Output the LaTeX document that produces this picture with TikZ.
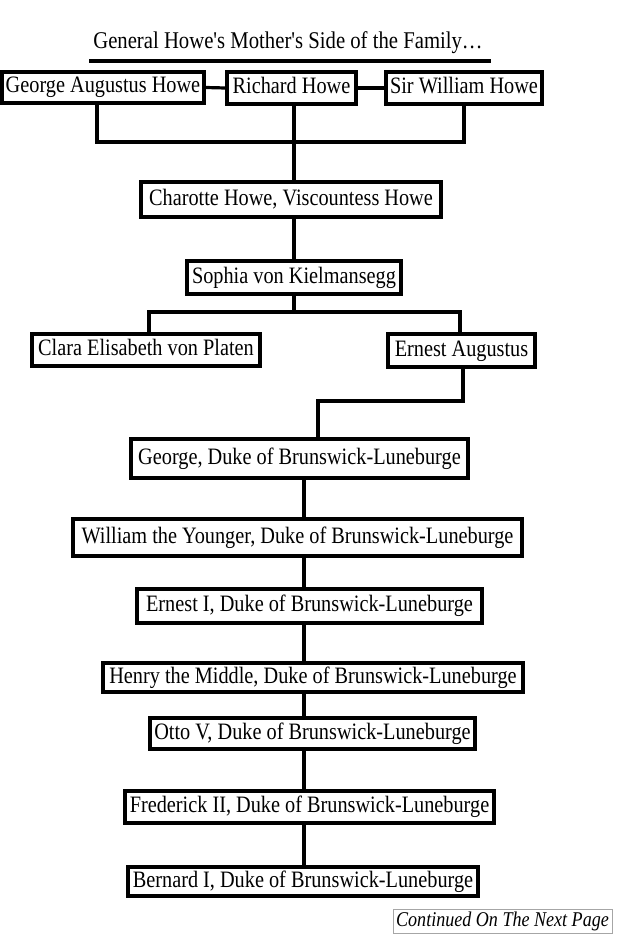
\documentclass[tikz,border=0pt]{standalone}
\usepackage{fontspec}
\newfontfamily\boxfont[FakeStretch=0.863]{Liberation Serif}
\newfontfamily\notefont[FakeStretch=0.86]{Liberation Serif}
\begin{document}
\begin{tikzpicture}[x=1pt,y=-1pt,
  person/.style={draw, line width=3.2pt, inner sep=0pt, fill=white,
    text height=19pt, text depth=8pt,
    font=\boxfont\fontsize{23.5}{28}\selectfont},
  link/.style={line width=3.2pt},
  note/.style={draw=gray!70, line width=0.9pt, inner sep=0pt,
    text height=16pt, text depth=7pt,
    font=\notefont\itshape\fontsize{21}{25}\selectfont}]
\useasboundingbox[fill=white] (0,0) rectangle (617,936);
% title
\node[font=\boxfont\fontsize{24}{28}\selectfont, text height=16pt, text depth=6pt, inner sep=0pt] (title) at (288,44) {General Howe's Mother's Side of the Family\ldots};
\coordinate (ulA) at (89,61);
\coordinate (ulB) at (491,61);
\draw[link] (ulA) -- (ulB);
% top row
\node[person, minimum width=202, minimum height=31] (gah) at (103,87.5) {George Augustus Howe};
\node[person, minimum width=129, minimum height=32] (rh) at (291.5,88) {Richard Howe};
\node[person, minimum width=156, minimum height=32] (swh) at (464,88) {Sir William Howe};
\node[person, minimum width=300, minimum height=35] (ch) at (291,199.5) {Charotte Howe, Viscountess Howe};
\node[person, minimum width=214, minimum height=33] (sk) at (294,277.5) {Sophia von Kielmansegg};
\node[person, minimum width=228, minimum height=32] (cevp) at (146,350) {Clara Elisabeth von Platen};
\node[person, minimum width=147, minimum height=33] (ea) at (461.5,350.5) {Ernest Augustus};
\node[person, minimum width=337, minimum height=39] (g) at (299.5,458.5) {George, Duke of Brunswick-Luneburge};
\node[person, minimum width=449, minimum height=37] (wy) at (297.5,537.5) {William the Younger, Duke of Brunswick-Luneburge};
\node[person, minimum width=345, minimum height=34] (e1) at (309.5,606) {Ernest I, Duke of Brunswick-Luneburge};
\node[person, minimum width=420, minimum height=29] (hm) at (313,677.5) {Henry the Middle, Duke of Brunswick-Luneburge};
\node[person, minimum width=325, minimum height=31] (o5) at (312.5,733.5) {Otto V, Duke of Brunswick-Luneburge};
\node[person, minimum width=369, minimum height=32] (f2) at (309.5,807) {Frederick II, Duke of Brunswick-Luneburge};
\node[person, minimum width=350, minimum height=29] (b1) at (303,881.5) {Bernard I, Duke of Brunswick-Luneburge};
\node[note, minimum width=219, minimum height=24] (cont) at (502.5,921.5) {Continued On The Next Page};
% junction coordinates
\coordinate (jtop) at (294,142);
\coordinate (jsk) at (294,312);
\coordinate (jea) at (463,401);
\coordinate (spine) at (304,0);
% top connectors
\draw[link] (gah.east) -- (rh.west);
\draw[link] (rh.east) -- (swh.west);
\draw[link] (gah.south -| 97,0) |- (jtop);
\draw[link] (swh.south) |- (jtop);
\draw[link] (rh.south -| jtop) -- (ch.north -| jtop);
\draw[link] (ch.south -| jtop) -- (sk.north -| jtop);
\draw[link] (sk.south -| jsk) -- (jsk);
\draw[link] (cevp.north -| 149,0) |- (jsk);
\draw[link] (ea.north -| 460,0) |- (jsk);
\draw[link] (ea.south -| jea) -- (jea) -| (g.north -| 318,0);
% chain
\draw[link] (g.south -| spine) -- (wy.north -| spine);
\draw[link] (wy.south -| spine) -- (e1.north -| spine);
\draw[link] (e1.south -| spine) -- (hm.north -| spine);
\draw[link] (hm.south -| spine) -- (o5.north -| spine);
\draw[link] (o5.south -| spine) -- (f2.north -| spine);
\draw[link] (f2.south -| spine) -- (b1.north -| spine);
\end{tikzpicture}
\end{document}
